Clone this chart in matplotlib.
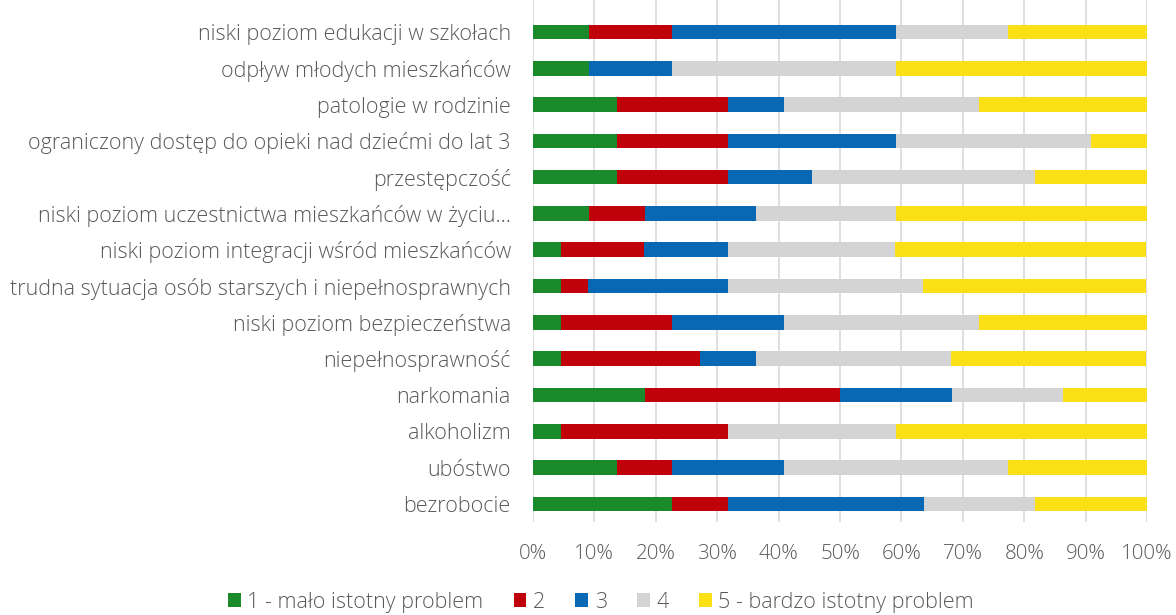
import matplotlib
matplotlib.use("Agg")
import matplotlib.pyplot as plt
import numpy as np

# categories from top to bottom as in the picture
categories = [
    "niski poziom edukacji w szkołach",
    "odpływ młodych mieszkańców",
    "patologie w rodzinie",
    "ograniczony dostęp do opieki nad dziećmi do lat 3",
    "przestępczość",
    "niski poziom uczestnictwa mieszkańców w życiu…",
    "niski poziom integracji wśród mieszkańców",
    "trudna sytuacja osób starszych i niepełnosprawnych",
    "niski poziom bezpieczeństwa",
    "niepełnosprawność",
    "narkomania",
    "alkoholizm",
    "ubóstwo",
    "bezrobocie",
]

series_names = ["1 - mało istotny problem", "2", "3", "4", "5 - bardzo istotny problem"]

# shares in percent (same order as categories)
s1 = [9.1, 9.1, 13.6, 13.6, 13.6, 9.1, 4.5, 4.5, 4.5, 4.5, 18.2, 4.5, 13.6, 22.7]
s2 = [13.6, 0.0, 18.2, 18.2, 18.2, 9.1, 13.6, 4.5, 18.2, 22.7, 31.8, 27.3, 9.1, 9.1]
s3 = [36.4, 13.6, 9.1, 27.3, 13.6, 18.2, 13.6, 22.7, 18.2, 9.1, 18.2, 0.0, 18.2, 31.8]
s4 = [18.2, 36.4, 31.8, 31.8, 36.4, 22.7, 27.3, 31.8, 31.8, 31.8, 18.2, 27.3, 36.4, 18.2]
s5 = [22.7, 40.9, 27.3, 9.1, 18.2, 40.9, 40.9, 36.4, 27.3, 31.8, 13.6, 40.9, 22.7, 18.2]

colors = ["#1a8a2a", "#c0000b", "#0868b4", "#d4d4d4", "#fce016"]
text_color = "#595959"

plt.rcParams['font.family'] = ['Open Sans', 'DejaVu Sans']
plt.rcParams['font.weight'] = 'light'

fig = plt.figure(figsize=(11.76, 6.15), dpi=100)
ax = fig.add_axes([533 / 1176, 1 - 522 / 615, 614 / 1176, 522 / 615])

n = len(categories)
y = np.arange(n)[::-1]
left = np.zeros(n)
for vals, name, col in zip([s1, s2, s3, s4, s5], series_names, colors):
    vals = np.array(vals)
    ax.barh(y, vals, left=left, height=0.4, color=col, label=name, zorder=3)
    left += vals

ax.set_xlim(0, 100)
ax.set_ylim(-0.5, n - 1 + 0.88)
ax.set_xticks(np.arange(0, 101, 10))
ax.set_xticklabels([f"{v}%" for v in range(0, 101, 10)])
ax.set_yticks(y)
ax.set_yticklabels(categories)

ax.grid(axis='x', color='#d9d9d9', linewidth=1.2, zorder=0)
for sp in ax.spines.values():
    sp.set_visible(False)
ax.tick_params(axis='both', length=0, colors=text_color)
ax.tick_params(axis='y', pad=16, labelsize=15.5)
ax.tick_params(axis='x', pad=16, labelsize=14.8)

fig.legend(loc='lower center', bbox_to_anchor=(0.511, -0.028), ncol=5,
           frameon=False, handlelength=0.6, handleheight=0.6,
           handletextpad=0.3, columnspacing=1.4, fontsize=15.5,
           labelcolor=text_color)

fig.savefig("out.png", dpi=100)
